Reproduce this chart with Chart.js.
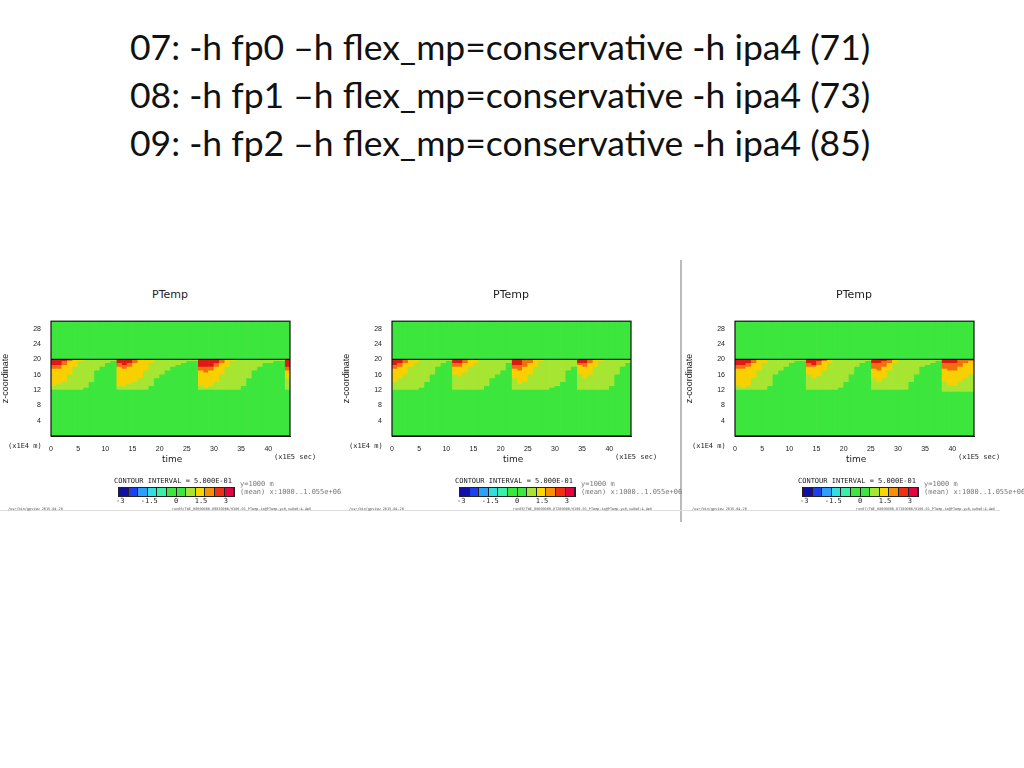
<!DOCTYPE html>
<html>
<head>
<meta charset="utf-8">
<script src="https://cdn.jsdelivr.net/npm/chart.js@4"></script>
<style>
  body { margin: 0; width: 1024px; height: 768px; background: #fff; position: relative; overflow: hidden; font-family: Lato, "Open Sans", sans-serif; }
  .title { position: absolute; left: 130px; font-size: 35.5px; color: #111; white-space: nowrap; }
  .panel { position: absolute; top: 245px; width: 340px; height: 265px; }
  .panel canvas { position: absolute; left: 0; top: 70px; }
  .ptitle { position: absolute; top: 43px; width: 100%; text-align: center; font: 11px "DejaVu Sans", sans-serif; color: #222; }
  .small { position: absolute; font: 7px "DejaVu Sans Mono", monospace; color: #222; white-space: nowrap; }
  .time { position: absolute; top: 209px; font: 9px "DejaVu Sans", sans-serif; color: #222; }
  .cbar { position: absolute; top: 242px; display: flex; border: 1px solid #222; }
  .cbar div { width: 8.6px; height: 8px; border-right: 1px solid #222; }
  .grey { color: #777; }
  .foot { position: absolute; top: 262px; font: 3.5px "DejaVu Sans Mono", monospace; color: #555; white-space: nowrap; }
</style>
</head>
<body>
<div class="title" style="top:25px">07: -h fp0 –h flex_mp=conservative -h ipa4 (71)</div>
<div class="title" style="top:73px">08: -h fp1 –h flex_mp=conservative -h ipa4 (73)</div>
<div class="title" style="top:121px">09: -h fp2 –h flex_mp=conservative -h ipa4 (85)</div>
<div style="position:absolute;left:680px;top:260px;width:2px;height:262px;background:#bbb"></div>
<div style="position:absolute;left:0;top:510px;width:1000px;height:1px;background:#ddd"></div>
<div id="panels"></div>
<script>
// time bins 0..43 (x1E5 sec), depths below z=20 (x1E4 m)
const bins = Array.from({ length: 44 }, (_, i) => i + 0.5);
const xTicks = [0, 5, 10, 15, 20, 25, 30, 35, 40];
const zTicks = [4, 8, 12, 16, 20, 24, 28];
const barLabels = ['-3', '-1.5', '0', '1.5', '3'];
const barColors = ['#1010a8', '#1a40f0', '#2aa0ff', '#30e0e0', '#38f0a8', '#3ce63c', '#3ce63c', '#a6e632', '#f8d800', '#f89000', '#f03010', '#e80040'];

const light1 = [8,8,8,8,8,8,7.5,6,3,2,1,0.5, 8,8,8,8,8,8,7,5,4,3,2,1.5,1,0.5,0.5, 8,8,8,8,8,8,8,8,7,5,3,2,1,1,0.5,0.5, 8];
const yellow1 = [7,6.5,6,4,2,0.5,0,0,0,0,0,0, 7,7,6.5,6,5,3,1,0,0,0,0,0,0,0,0, 7,7.5,7,6,4,2,0.5,0,0,0,0,0,0,0,0,0, 5];
const orange1 = [2.5,2.5,1.5,0.5,0,0,0,0,0,0,0,0, 2,2.5,2,1,0,0,0,0,0,0,0,0,0,0,0, 3,3.5,3,2,1,0,0,0,0,0,0,0,0,0,0,0, 3];
const red1 = [1.5,1.5,0.5,0,0,0,0,0,0,0,0,0, 1,1.5,1,0,0,0,0,0,0,0,0,0,0,0,0, 2,2,2,1,0,0,0,0,0,0,0,0,0,0,0,0, 2];

const light2 = [8,8,8,8,8,7.5,6,4,2,1,0.5, 8,8,8,8,8,8,7,5,4,3,1, 8,8,8,8,8,8,8,7.5,7,6,3,2, 8,8,8,8,8,8,7,4,2,1];
const yellow2 = [6,5,4,2,1,0,0,0,0,0,0, 4,4.5,3.5,2,1,0,0,0,0,0,0, 5,6.5,6,4,2,0.5,0,0,0,0,0,0, 4,5,4,2,0.5,0,0,0,0,0];
const orange2 = [2.5,2,1,0,0,0,0,0,0,0,0, 2,2,1,0,0,0,0,0,0,0,0, 2.5,3,2,1,0,0,0,0,0,0,0,0, 1.5,2,1,0,0,0,0,0,0,0];
const red2 = [1.5,1,0,0,0,0,0,0,0,0,0, 1,1,0,0,0,0,0,0,0,0,0, 1.5,1.5,0,0,0,0,0,0,0,0,0,0, 1,1,0,0,0,0,0,0,0,0];

const light3 = [8,8,8,8,8,8,7,4,3,2,1,0.5,0.5, 8,8,8,8,8,8,7.5,6,4,2,1,0.5, 8,8,8,8,8,8,8,6,4,2,1.5,1,0.5, 8.5,8.5,8.5,8.5,8.5,8.5];
const yellow3 = [7,7.5,7,5,3,1,0,0,0,0,0,0,0, 4,5,4.5,3,1,0,0,0,0,0,0,0, 5,6,5,3,1,0,0,0,0,0,0,0,0, 6,7,7,6,5,4];
const orange3 = [2.5,2.5,2,1,0,0,0,0,0,0,0,0,0, 2,2,1.5,0.5,0,0,0,0,0,0,0,0, 2.5,3,2,1,0,0,0,0,0,0,0,0,0, 2.5,3,3,2,1,0.5];
const red3 = [1.5,1.5,1,0,0,0,0,0,0,0,0,0,0, 1,1.5,0.5,0,0,0,0,0,0,0,0,0, 1,1,0.5,0,0,0,0,0,0,0,0,0,0, 1,1,1,0,0,0];

const panels = [
  { left: 0, light: light1, yellow: yellow1, orange: orange1, red: red1, foot: 'run06/TWE_00000000-08830000/9100-01_PTemp.ia@PTemp.y=0,x=0e0:4.4e6' },
  { left: 341, light: light2, yellow: yellow2, orange: orange2, red: red2, foot: 'run08/TWE_00000000-07200000/9100-01_PTemp.ia@PTemp.y=0,x=0e0:4.4e6' },
  { left: 684, light: light3, yellow: yellow3, orange: orange3, red: red3, foot: 'run07/TWE_00000000-07100000/9100-01_PTemp.ia@PTemp.y=0,x=0e0:4.4e6' }
];

const frame = {
  id: 'frame',
  afterDatasetsDraw(chart) {
    const a = chart.chartArea, ctx = chart.ctx, y20 = chart.scales.y.getPixelForValue(20);
    ctx.save();
    ctx.strokeStyle = '#111';
    ctx.lineWidth = 1.2;
    ctx.strokeRect(a.left, a.top, a.right - a.left, a.bottom - a.top);
    ctx.beginPath();
    ctx.moveTo(a.left, y20);
    ctx.lineTo(a.right, y20);
    ctx.stroke();
    ctx.restore();
  }
};

const holder = document.getElementById('panels');
panels.forEach(p => {
  const div = document.createElement('div');
  div.className = 'panel';
  div.style.left = p.left + 'px';
  div.innerHTML =
    '<div class="ptitle">PTemp</div>' +
    '<canvas width="340" height="136"></canvas>' +
    '<div class="small" style="left:8px;top:197px">(x1E4 m)</div>' +
    '<div class="small" style="left:274px;top:208px">(x1E5 sec)</div>' +
    '<div class="time" style="left:162px">time</div>' +
    '<div class="small" style="left:114px;top:232px">CONTOUR INTERVAL = 5.000E-01</div>' +
    '<div class="small grey" style="left:240px;top:235px">y=1000 m</div>' +
    '<div class="small grey" style="left:240px;top:243px">(mean) x:1000..1.055e+06</div>' +
    '<div class="cbar" style="left:118px">' + barColors.map(c => '<div style="background:' + c + '"></div>').join('') + '</div>' +
    '<div class="small" style="left:116px;top:252px;width:112px;display:flex;justify-content:space-between">' + barLabels.map(l => '<span>' + l + '</span>').join('') + '</div>' +
    '<div class="foot" style="left:8px">/usr/bin/gpview  2015-04-20</div>' +
    '<div class="foot" style="left:172px">' + p.foot + '</div>';
  holder.appendChild(div);

  const base = p.light.map(v => 20 - v);
  const lightBand = p.light.map((v, i) => v - p.yellow[i]);
  const yellowBand = p.yellow.map((v, i) => v - p.orange[i]);
  const orangeBand = p.orange.map((v, i) => v - p.red[i]);
  const top = bins.map(() => 10);
  const mk = (vals, color) => ({
    data: vals.map((v, i) => ({ x: bins[i], y: v })),
    backgroundColor: color, borderWidth: 0, barPercentage: 1, categoryPercentage: 1
  });

  // eslint-disable-next-line
  const chart = new Chart(div.querySelector('canvas'), {
    type: 'bar',
    data: {
      datasets: [
        mk(base, '#3ce63c'),
        mk(lightBand, '#a6e632'),
        mk(yellowBand, '#f8d000'),
        mk(orangeBand, '#f07010'),
        mk(p.red, '#e01818'),
        mk(top, '#3ce63c')
      ]
    },
    options: {
      responsive: false,
      animation: false,
      layout: { padding: { top: 0, right: 50, bottom: 0, left: 0 } },
      plugins: { legend: { display: false }, tooltip: { enabled: false } },
      scales: {
        x: {
          type: 'linear', stacked: true, min: 0, max: 44, offset: false,
          afterBuildTicks: s => { s.ticks = xTicks.map(v => ({ value: v })); },
          ticks: { font: { size: 7 }, color: '#222', padding: 1, maxRotation: 0 },
          grid: { display: false },
          border: { color: '#111' },
          afterFit: s => { s.height = 15; }
        },
        y: {
          stacked: true, min: 0, max: 30,
          afterBuildTicks: s => { s.ticks = zTicks.map(v => ({ value: v })); },
          ticks: { font: { size: 7 }, color: '#222', padding: 2 },
          grid: { display: false },
          border: { color: '#111' },
          title: { display: true, text: 'z-coordinate', font: { size: 9 }, color: '#222', padding: 0 },
          afterFit: s => { s.width = 51; }
        }
      }
    },
    plugins: [frame]
  });
});
</script>
</body>
</html>
